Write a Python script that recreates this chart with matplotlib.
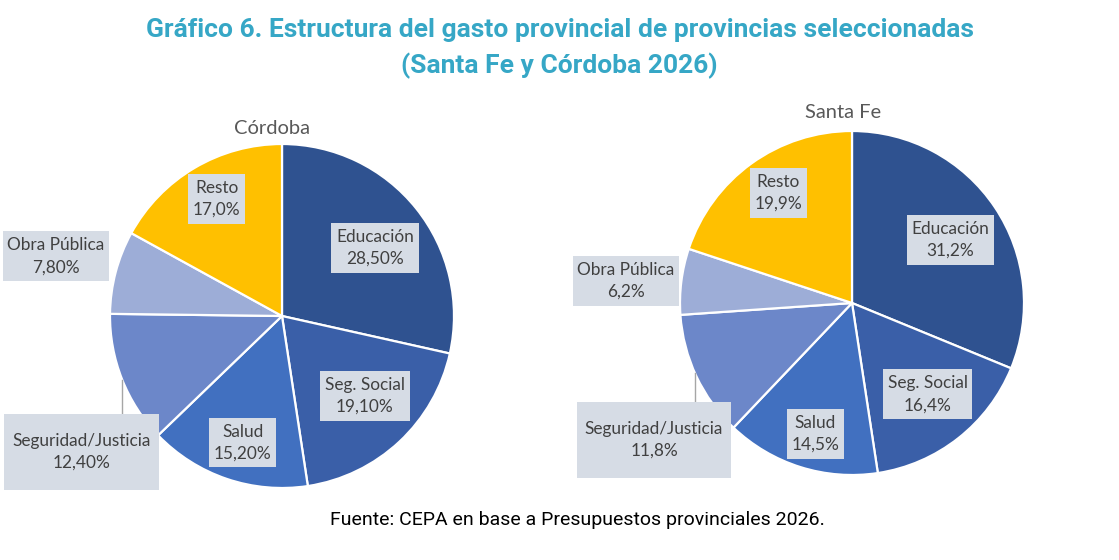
import numpy as np
import matplotlib
matplotlib.use("Agg")
import matplotlib.pyplot as plt

# datos (%)
categorias = ["Educación", "Seg. Social", "Salud", "Seguridad/Justicia", "Obra Pública", "Resto"]
cordoba = [28.5, 19.1, 15.2, 12.4, 7.8, 17.0]
cordoba_txt = ["28,50%", "19,10%", "15,20%", "12,40%", "7,80%", "17,0%"]
santafe = [31.2, 16.4, 14.5, 11.8, 6.2, 19.9]
santafe_txt = ["31,2%", "16,4%", "14,5%", "11,8%", "6,2%", "19,9%"]

colores = ["#2F5290", "#3A5FA8", "#4170C0", "#6C87C9", "#9DADD7", "#FFC000"]
fondo_etiq = "#D6DCE5"
gris = "#404040"

W, H = 1119, 560
fig = plt.figure(figsize=(W / 100, H / 100), dpi=100)


def eje(cx, cy, r):
    # cx, cy en pixeles desde arriba a la izquierda
    return fig.add_axes([(cx - r) / W, (H - cy - r) / H, 2 * r / W, 2 * r / H])


def torta(ax, valores, textos, titulo, dist, dang, titulo_dy):
    wedges, _ = ax.pie(valores, colors=colores, startangle=90, counterclock=False,
                       radius=1, wedgeprops=dict(edgecolor="white", linewidth=1.6))
    ax.set_xlim(-1, 1)
    ax.set_ylim(-1, 1)
    ax.axis("off")
    largas = []
    for i, w in enumerate(wedges):
        ang = np.deg2rad((w.theta1 + w.theta2) / 2 + dang[i])
        x, y = dist[i] * np.cos(ang), dist[i] * np.sin(ang)
        if categorias[i] == "Seguridad/Justicia":
            caja = dict(boxstyle="square,pad=0.48", fc=fondo_etiq, ec="none",
                        mutation_aspect=2.3)
        else:
            caja = dict(boxstyle="square,pad=0.27", fc=fondo_etiq, ec="none",
                        mutation_aspect=1.3)
        t = ax.text(x, y, categorias[i] + "\n" + textos[i], ha="center", va="center",
                    fontsize=12.4, family="Lato", color=gris, zorder=5,
                    linespacing=1.45, bbox=caja)
        if categorias[i] == "Seguridad/Justicia":
            largas.append(t)
    ax.text(0, 1 + titulo_dy, titulo, ha="center", va="bottom", fontsize=14.5,
            family="Lato", color="#595959")
    return largas


ax1 = eje(282, 316, 172)
l1 = torta(ax1, cordoba, cordoba_txt, "Córdoba",
           dist=[0.67, 0.67, 0.77, 1.41, 1.36, 0.78],
           dang=[-2.5, 3, 1.5, 12.5, 0, -1.5], titulo_dy=0.04)
ax1.texts[-1].set_x(-0.06)

ax2 = eje(852, 303, 172)
l2 = torta(ax2, santafe, santafe_txt, "Santa Fe",
           dist=[0.68, 0.69, 0.79, 1.40, 1.32, 0.77],
           dang=[-1, 1.5, 1.7, 9.5, 1.6, -2], titulo_dy=0.06)
ax2.texts[-1].set_x(-0.05)

fig.text(0.5, 1 - 30 / H, "Gráfico 6. Estructura del gasto provincial de provincias seleccionadas",
         ha="center", va="center", fontsize=19, family="Roboto", weight="bold",
         color="#36A7C6")
fig.text(0.5, 1 - 66 / H, "(Santa Fe y Córdoba 2026)", ha="center", va="center",
         fontsize=19, family="Roboto", weight="bold", color="#36A7C6")
fig.text(577 / W, 1 - 520 / H, "Fuente: CEPA en base a Presupuestos provinciales 2026.",
         ha="center", va="center", fontsize=14, family="Roboto", color="black")

# lineas guia de las etiquetas externas
fig.canvas.draw()
rend = fig.canvas.get_renderer()
for ax, ts in [(ax1, l1), (ax2, l2)]:
    for t in ts:
        bb = t.get_bbox_patch().get_window_extent(rend)
        (x0, y0), (x1, y1) = ax.transData.inverted().transform([[bb.x0, bb.y0], [bb.x1, bb.y1]])
        lx = x0 + 0.765 * (x1 - x0)
        ax.plot([lx, lx], [-np.sqrt(1 - lx ** 2), y1], color="#A6A6A6", lw=1,
                zorder=4, clip_on=False)

fig.savefig("out.png", dpi=100)
